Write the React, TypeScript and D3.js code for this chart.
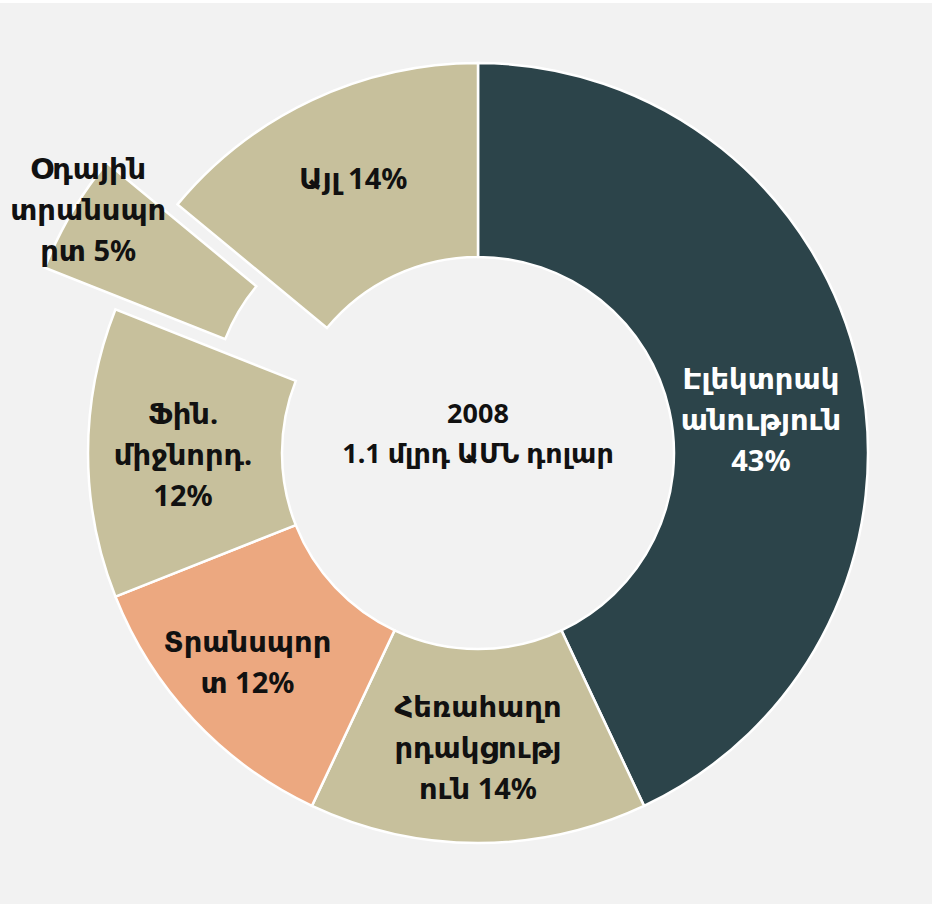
import React, { useEffect, useRef } from 'react';
import * as d3 from 'd3';

// sectors, clockwise from 12 o'clock
const categories = ['Էլեկտրականություն', 'Հեռահաղորդակցություն', 'Տրանսպորտ', 'Ֆին. միջնորդ.', 'Օդային տրանսպորտ', 'Այլ'];
const shares = [43, 14, 12, 12, 5, 14];
const labelLines = [
  ['Էլեկտրակ', 'անություն', '43%'],
  ['Հեռահաղո', 'րդակցությ', 'ուն 14%'],
  ['Տրանսպոր', 'տ 12%'],
  ['Ֆին.', 'միջնորդ.', '12%'],
  ['Օդային', 'տրանսպո', 'րտ 5%'],
  ['Այլ 14%'],
];
const sliceColors = ['#2c444a', '#c7c09c', '#eca880', '#c7c09c', '#c7c09c', '#c7c09c'];
const explodedSlices = ['Օդային տրանսպորտ'];
const centerLines = ['2008', '1.1 մլրդ ԱՄՆ դոլար'];

const FONT = '"Noto Sans", "DejaVu Sans", sans-serif';

export default function App() {
  const ref = useRef<SVGSVGElement>(null);

  useEffect(() => {
    const width = 932, height = 904;
    const cx = 478, cy = 453;
    const outerR = 390, innerR = 196;
    const explode = 82;
    const lineH = 41;

    const svg = d3.select(ref.current);
    svg.selectAll('*').remove();

    svg.append('rect').attr('x', 0).attr('y', 0).attr('width', width).attr('height', height).attr('fill', '#ffffff');
    svg.append('rect').attr('x', 0).attr('y', 3).attr('width', width).attr('height', height - 3).attr('fill', '#f2f2f2');

    const data = categories.map((c, i) => ({ name: c, value: shares[i], lines: labelLines[i], color: sliceColors[i] }));

    const pie = d3.pie<any>().sort(null).value((d: any) => d.value).startAngle(0).endAngle(2 * Math.PI);
    const arc = d3.arc<any>().innerRadius(innerR).outerRadius(outerR);
    const arcs = pie(data);

    // label nudges relative to the arc centroid
    const nudge: Record<string, [number, number]> = {
      'Էլեկտրականություն': [-3, 29],
      'Հեռահաղորդակցություն': [0, 0],
      'Տրանսպորտ': [-17, 7],
      'Ֆին. միջնորդ.': [-2, 0],
      'Օդային տրանսպորտ': [-67, -54],
      'Այլ': [0, -10],
    };

    const g = svg.append('g').attr('transform', 'translate(' + cx + ',' + cy + ')');

    const slice = g.selectAll('g.slice')
      .data(arcs)
      .enter()
      .append('g')
      .attr('class', 'slice')
      .attr('transform', (d: any) => {
        if (explodedSlices.indexOf(d.data.name) < 0) return null;
        const mid = (d.startAngle + d.endAngle) / 2;
        return 'translate(' + explode * Math.sin(mid) + ',' + (-explode * Math.cos(mid)) + ')';
      });

    slice.append('path')
      .attr('d', arc as any)
      .attr('fill', (d: any) => d.data.color)
      .attr('stroke', '#ffffff')
      .attr('stroke-width', 2.5)
      .attr('stroke-linejoin', 'miter');

    slice.append('text')
      .attr('text-anchor', 'middle')
      .attr('font-family', FONT)
      .attr('font-weight', 'bold')
      .attr('font-size', 29)
      .attr('fill', (d: any) => (d.data.color === '#2c444a' ? '#ffffff' : '#111111'))
      .each(function (d: any) {
        const [x0, y0] = arc.centroid(d);
        const [dx, dy] = nudge[d.data.name] || [0, 0];
        const lines: string[] = d.data.lines;
        const top = y0 + dy - ((lines.length - 1) / 2) * lineH;
        d3.select(this)
          .selectAll('tspan')
          .data(lines)
          .enter()
          .append('tspan')
          .attr('x', x0 + dx)
          .attr('y', (_: any, i: number) => top + i * lineH)
          .attr('dominant-baseline', 'central')
          .text((t: string) => t);
      });

    g.append('text')
      .attr('text-anchor', 'middle')
      .attr('font-family', FONT)
      .attr('font-weight', 'bold')
      .attr('font-size', 27)
      .attr('fill', '#111111')
      .selectAll('tspan')
      .data(centerLines)
      .enter()
      .append('tspan')
      .attr('x', 0)
      .attr('y', (_: any, i: number) => -41 + i * 40)
      .attr('dominant-baseline', 'central')
      .text((t: string) => t);
  }, []);

  return (
    <>
      <style>{'body{margin:0}'}</style>
      <svg ref={ref} width={932} height={904} style={{ display: 'block' }} />
    </>
  );
}
